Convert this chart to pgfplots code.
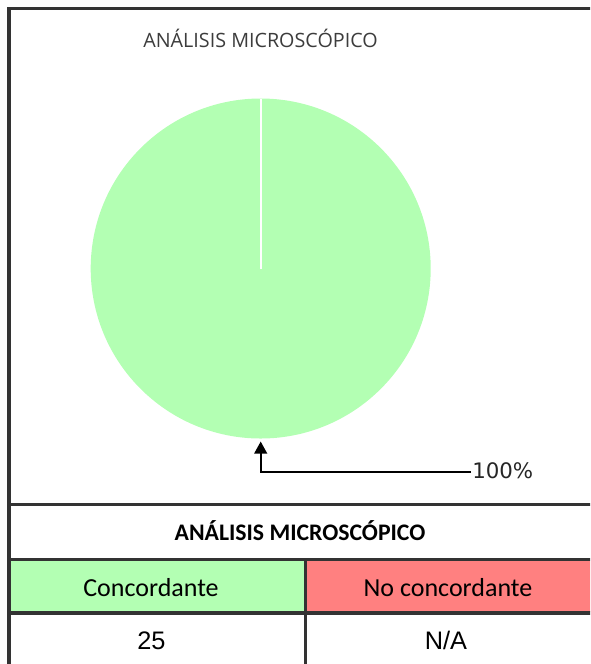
\documentclass[border=0pt]{standalone}
\usepackage{pgfplots}
\pgfplotsset{compat=1.18}
\usepackage{pgfplotstable}
\usetikzlibrary{arrows.meta}
\usepackage{fontspec}
\setmainfont{Carlito}
\newfontfamily\arialf{Liberation Sans}
\newfontfamily\titlef{Open Sans}
\newfontfamily\dejavuf{DejaVu Sans}
\definecolor{piegreen}{RGB}{179,255,179}
\definecolor{cellred}{RGB}{255,128,128}
\definecolor{rulegray}{RGB}{51,51,51}
\definecolor{titlegray}{RGB}{60,60,60}

\pgfplotstableread{
category value
Concordante 25
NoConcordante 0
}\piedata

\begin{document}%
\begin{tikzpicture}
\pgfplotstablegetelem{0}{value}\of\piedata
\let\vA\pgfplotsretval
\pgfplotstablegetelem{1}{value}\of\piedata
\let\vB\pgfplotsretval
\pgfmathsetmacro\pietotal{\vA+\vB}
\pgfmathsetmacro\pieangle{360*\vA/\pietotal}
\pgfmathtruncatemacro\piepct{round(100*\vA/\pietotal)}
\begin{axis}[at={(0,0)}, anchor=origin, scale only axis,
  width=442.5pt, height=498pt, xmin=0, xmax=590, ymin=0, ymax=664,
  y dir=reverse, hide axis]
% table cell fills
\fill[piegreen] (axis cs:10.5,561) rectangle (axis cs:304,611.5);
\fill[cellred] (axis cs:307,561) rectangle (axis cs:592,611.5);
% pie (single slice from the data)
\fill[piegreen] (axis cs:260.7,268.5) -- (axis cs:260.7,98.5)
   arc[start angle=90, delta angle=-\pieangle, radius=127.5pt] -- cycle;
\draw[white, line width=1.8pt] (axis cs:260.7,268.5) -- (axis cs:260.7,98.5);
% label arrow
\draw[black, line width=1.4pt, -{Triangle[width=9.5pt,length=9pt]}] (axis cs:471,472) -- (axis cs:260.7,472) -- (axis cs:260.7,441.5);
\node[anchor=base west, inner sep=0pt, font=\dejavuf\fontsize{16pt}{19pt}\selectfont, text=black!85] at (axis cs:472,478) {\piepct\%};
% title
\node[anchor=base, inner sep=0pt, font=\titlef\fontsize{14.8pt}{17pt}\selectfont, text=titlegray] at (axis cs:260.5,47) {ANÁLISIS MICROSCÓPICO};
% rules
\draw[rulegray, line width=2.4pt] (axis cs:9,670) -- (axis cs:9,8.7) -- (axis cs:595,8.7);
\draw[rulegray, line width=2.4pt] (axis cs:9,504.5) -- (axis cs:595,504.5);
\draw[rulegray, line width=2.4pt] (axis cs:9,559.5) -- (axis cs:595,559.5);
\draw[rulegray, line width=2.4pt] (axis cs:9,613) -- (axis cs:595,613);
\draw[rulegray, line width=2.4pt] (axis cs:305.5,559.5) -- (axis cs:305.5,670);
% table text
\node[anchor=base, inner sep=0pt, font=\bfseries\fontsize{17.8pt}{21pt}\selectfont] at (axis cs:300,540) {ANÁLISIS MICROSCÓPICO};
\node[anchor=base, inner sep=0pt, font=\fontsize{19.5pt}{23pt}\selectfont] at (axis cs:151,596) {Concordante};
\node[anchor=base, inner sep=0pt, font=\fontsize{19.5pt}{23pt}\selectfont] at (axis cs:448,596) {No concordante};
\node[anchor=base, inner sep=0pt, font=\arialf\fontsize{19pt}{22pt}\selectfont] at (axis cs:151.5,649) {\vA};
\node[anchor=base, inner sep=0pt, font=\arialf\fontsize{19pt}{22pt}\selectfont] at (axis cs:446,649) {N/A};
\end{axis}
\pgfresetboundingbox
\path[use as bounding box] (0,0) rectangle (442.5pt,-498pt);
\end{tikzpicture}%
\end{document}
